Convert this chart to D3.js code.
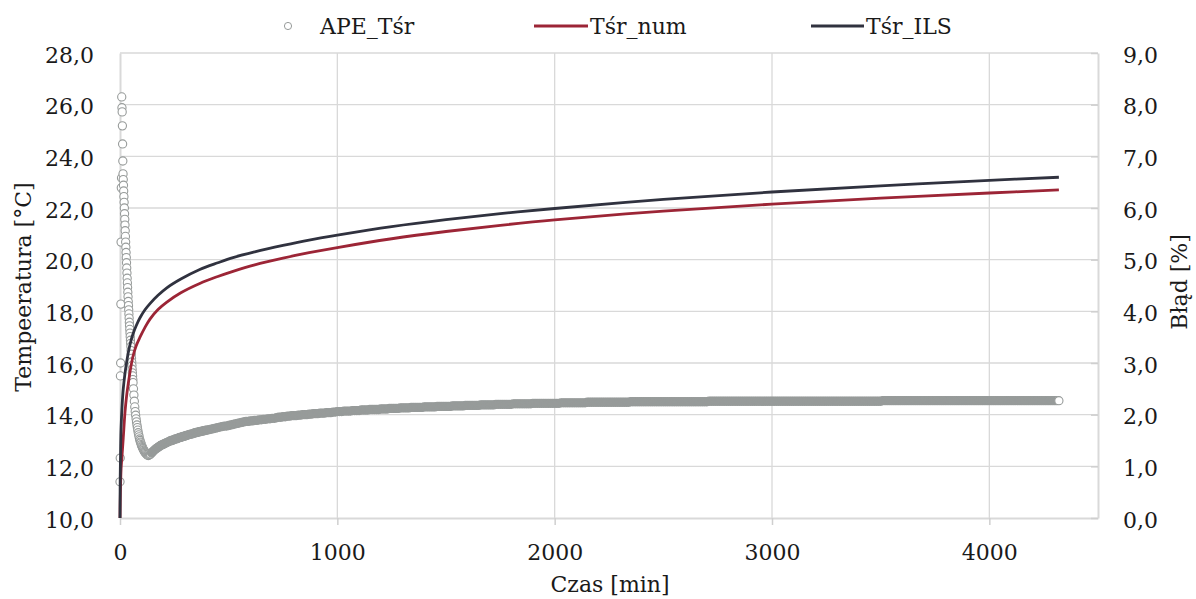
<!DOCTYPE html>
<html><head><meta charset="utf-8">
<script src="https://cdn.jsdelivr.net/npm/d3@7"></script>
<style>
body{margin:0;background:#fff}
text{font-family:"DejaVu Serif",serif;fill:#1a1a1a}
</style>
</head><body>
<svg id="c" width="1196" height="599"></svg>
<script>
// ---------- data ----------
const xTicks = [0, 1000, 2000, 3000, 4000];
const yLeftTicks = [10, 12, 14, 16, 18, 20, 22, 24, 26, 28];
const yRightTicks = [0, 1, 2, 3, 4, 5, 6, 7, 8, 9];
const seriesNames = ["APE_Tśr", "Tśr_num", "Tśr_ILS"];

// time [min] of line samples
const lineTime = [0, 1, 3, 5, 10, 15, 23, 30, 38, 50, 61, 75, 92, 115, 138, 175, 214, 280, 367, 450, 520, 620, 750, 870, 1000, 1250, 1500, 1750, 2000, 2500, 3000, 3500, 4000, 4320];
const tsrILS = [10.0, 11.6, 12.8, 13.5, 14.4, 15.0, 15.6, 16.0, 16.4, 16.85, 17.15, 17.45, 17.75, 18.06, 18.3, 18.62, 18.9, 19.25, 19.62, 19.88, 20.08, 20.3, 20.55, 20.76, 20.95, 21.28, 21.55, 21.78, 21.98, 22.33, 22.62, 22.86, 23.07, 23.19];
const tsrNum = [10.0, 10.6, 11.4, 11.9, 12.5, 13.1, 14.1, 14.7, 15.2, 15.85, 16.3, 16.68, 17.0, 17.38, 17.7, 18.07, 18.35, 18.72, 19.08, 19.35, 19.55, 19.8, 20.06, 20.27, 20.47, 20.81, 21.09, 21.33, 21.54, 21.88, 22.15, 22.38, 22.58, 22.7];

// APE_Tśr [%] — segments of samples (start minute, step in minutes, values)
const apeEarlyStart = 0, apeEarlyStep = 1;
const apeEarly = [0.70,1.16,2.75,3.00,4.14,5.34,6.39,6.58,8.15,7.94,7.86,7.59,7.24,6.91,6.66,
 6.55,6.44,6.33,6.22,6.11,6.00,5.89,5.78,5.67,5.56,5.45,5.34,5.24,5.14,5.04,4.94,4.84,4.74,4.64,4.55,4.46,
 4.37,4.28,4.19,4.11,4.03,3.95,3.87,3.79,3.72,3.65,3.58,3.51,3.44,3.38,3.32,3.24,3.17,3.09,3.02,2.95,2.88,2.81,2.75,2.68,2.62];
const apeMidStart = 62, apeMidStep = 2;
const apeMid = [2.50,2.38,2.26,2.15,2.06,1.99,1.92,1.86,1.80,1.75,1.70,1.65,1.61,1.57,1.53,1.50,1.47,1.45,1.42,1.40,
 1.38,1.36,1.34,1.32,1.31,1.29,1.28,1.27,1.26,1.25,1.24,1.23,1.22,1.22,1.21,1.22,1.22,1.23,1.23,1.24];
const apeLateStart = 145, apeLateStep = 5;
const apeLate = [1.26,1.28,1.30,1.32,1.34,1.35,1.37,1.38,1.40,1.41,1.42,1.43,1.44,1.45,1.46,1.47,1.48,1.49,1.50,1.50,
 1.51,1.52,1.53,1.53,1.54,1.55,1.56,1.56,1.57,1.58,1.58,1.59,1.60,1.60,1.61,1.62,1.62,1.63,1.63,1.64,
 1.65,1.65,1.66,1.66,1.67,1.67,1.68,1.68,1.69,1.69,1.70,1.70];
const apeTailStart = 410, apeTailStep = 10;
const apeTail = [
 1.71,1.72,1.73,1.74,1.75,1.76,1.77,1.78,1.78,1.79,1.80,1.81,1.82,1.83,1.84,1.85,1.86,
 1.87,1.87,1.88,1.88,1.89,1.89,1.90,1.90,1.91,1.91,1.92,1.92,1.93,1.93,1.94,
 1.95,1.95,1.96,1.96,1.97,1.97,1.98,1.98,1.98,1.99,1.99,2.00,2.00,2.00,2.01,2.01,2.02,2.02,2.02,2.03,2.03,2.03,2.04,2.04,2.04,2.05,2.05,2.06,
 2.06,2.06,2.07,2.07,2.07, 2.07,2.08,2.08,2.08,2.08, 2.09,2.09,2.09,2.09,2.10, 2.10,2.10,2.10,2.10,2.11, 2.11,2.11,2.11,2.12,2.12,
 2.12,2.12,2.12,2.13,2.13, 2.13,2.13,2.13,2.14,2.14, 2.14,2.14,2.14,2.14,2.15, 2.15,2.15,2.15,2.15,2.15, 2.16,2.16,2.16,2.16,2.16,
 2.16,2.16,2.17,2.17,2.17, 2.17,2.17,2.17,2.18,2.18, 2.18,2.18,2.18,2.18,2.18, 2.19,2.19,2.19,2.19,2.19, 2.19,2.19,2.20,2.20,2.20,
 2.20,2.20,2.20,2.20,2.20, 2.21,2.21,2.21,2.21,2.21, 2.21,2.21,2.21,2.21,2.22, 2.22,2.22,2.22,2.22,2.22, 2.22,2.22,2.22,2.22,2.22,
 2.22,2.22,2.23,2.23,2.23,2.23,2.23,2.23,2.23,2.23, 2.23,2.23,2.23,2.23,2.24,2.24,2.24,2.24,2.24,2.24,
 2.24,2.24,2.24,2.24,2.24,2.24,2.24,2.24,2.24,2.24, 2.24,2.24,2.24,2.24,2.25,2.25,2.25,2.25,2.25,2.25,
 2.25,2.25,2.25,2.25,2.25,2.25,2.25,2.25,2.25,2.25,
 2.25,2.25,2.25,2.25,2.25,2.25,2.25,2.25,2.25,2.25, 2.25,2.25,2.25,2.25,2.25,2.25,2.25,2.25,2.25,2.25,
 2.26,2.26,2.26,2.26,2.26,2.26,2.26,2.26,2.26,2.26, 2.26,2.26,2.26,2.26,2.26,2.26,2.26,2.26,2.26,2.26, 2.26,2.26,2.26,2.26,2.26,2.26,2.26,2.26,2.26,2.26,
 2.26,2.26,2.26,2.26,2.26,2.26,2.26,2.26,2.26,2.26, 2.26,2.26,2.26,2.26,2.26,2.26,2.26,2.26,2.26,2.26, 2.26,2.26,2.26,2.26,2.26,2.26,2.26,2.26,2.26,2.26,
 2.26,2.26,2.26,2.26,2.26,2.26,2.26,2.26,2.26,2.26, 2.26,2.26,2.26,2.26,2.26,2.26,2.26,2.26,2.26,2.26,
 2.27,2.27,2.27,2.27,2.27,2.27,2.27,2.27,2.27,2.27, 2.27,2.27,2.27,2.27,2.27,2.27,2.27,2.27,2.27,2.27,
 2.27,2.27,2.27,2.27,2.27,2.27,2.27,2.27,2.27,2.27, 2.27,2.27,2.27,2.27,2.27,2.27,2.27,2.27,2.27,2.27,
 2.27,2.27,2.27,2.27,2.27,2.27,2.27,2.27,2.27,2.27, 2.27,2.27,2.27,2.27,2.27,2.27,2.27,2.27,2.27,2.27,
 2.27,2.27,2.27,2.27,2.27,2.27,2.27,2.27,2.27,2.27, 2.27,2.27,2.27,2.27,2.27,2.27,2.27,2.27,2.27,2.27,
 2.27,2.27];

// ---------- chart ----------
const colNum = "#9c2536", colILS = "#30323f", colApe = "#979b9a", grid = "#d9d9d9";
const svg = d3.select("#c");
const x = d3.scaleLinear().domain([0, 4500]).range([120, 1098]);
const yL = d3.scaleLinear().domain([10, 28]).range([518, 53]);
const yR = d3.scaleLinear().domain([0, 9]).range([518, 53]);
const fmt = d => d.toFixed(1).replace(".", ",");

// gridlines
svg.append("g").selectAll("line").data(yLeftTicks.filter(d => d > 10)).join("line")
  .attr("x1", x(0)).attr("x2", x(4500)).attr("y1", d => yL(d)).attr("y2", d => yL(d))
  .attr("stroke", grid).attr("stroke-width", 1.3);
svg.append("g").selectAll("line").data(xTicks.filter(d => d > 0)).join("line")
  .attr("x1", d => x(d)).attr("x2", d => x(d)).attr("y1", yL(28)).attr("y2", yL(10))
  .attr("stroke", grid).attr("stroke-width", 1.3);

// axes
const ax = svg.append("g").attr("transform", `translate(0,${yL(10)})`)
  .call(d3.axisBottom(x).tickValues(xTicks).tickSizeInner(7).tickSizeOuter(0).tickPadding(19).tickFormat(d3.format("d")));
const axL = svg.append("g").attr("transform", `translate(${x(0)},0)`)
  .call(d3.axisLeft(yL).tickValues(yLeftTicks).tickSize(0).tickPadding(26).tickFormat(fmt));
const axR = svg.append("g").attr("transform", `translate(${x(4500)},0)`)
  .call(d3.axisRight(yR).tickValues(yRightTicks).tickSizeInner(-7).tickSizeOuter(0).tickPadding(25).tickFormat(fmt));
[ax, axL, axR].forEach(g => {
  g.selectAll(".domain").attr("stroke", grid).attr("stroke-width", 2);
  g.selectAll(".tick line").attr("stroke", "#cfcfcf").attr("stroke-width", 1.5);
  g.selectAll("text").attr("font-size", 22).attr("font-family", "DejaVu Serif").attr("fill", "#1a1a1a");
});
axL.selectAll("text").attr("dy", "0.42em");
axR.selectAll("text").attr("dy", "0.42em");

// APE scatter
const apePts = [];
const addSeg = (start, step, vals, dense) => vals.forEach((v, i) => apePts.push({t: start + i * step, v, dense}));
addSeg(apeEarlyStart, apeEarlyStep, apeEarly, false);
addSeg(apeMidStart, apeMidStep, apeMid, false);
addSeg(apeLateStart, apeLateStep, apeLate, true);
addSeg(apeTailStart, apeTailStep, apeTail, true);
svg.append("g").selectAll("circle").data(apePts).join("circle")
  .attr("cx", d => x(d.t)).attr("cy", d => yR(d.v)).attr("r", 4.1)
  .attr("fill", (d, i) => d.dense && i < apePts.length - 1 ? colApe : "#fff")
  .attr("stroke", colApe).attr("stroke-width", 1.1);

// lines
const mk = vals => d3.line().x((d, i) => x(lineTime[i])).y(d => yL(d)).curve(d3.curveCatmullRom.alpha(0.5))(vals);
svg.append("path").attr("d", mk(tsrNum)).attr("fill", "none").attr("stroke", colNum).attr("stroke-width", 2.8);
svg.append("path").attr("d", mk(tsrILS)).attr("fill", "none").attr("stroke", colILS).attr("stroke-width", 2.8);

// axis titles
svg.append("text").attr("transform", "translate(31,287) rotate(-90)").attr("text-anchor", "middle")
  .attr("font-size", 22).text("Tempeeratura [°C]");
svg.append("text").attr("transform", "translate(1187,282) rotate(-90)").attr("text-anchor", "middle")
  .attr("font-size", 22).text("Błąd [%]");
svg.append("text").attr("x", 610).attr("y", 592).attr("text-anchor", "middle")
  .attr("font-size", 22).text("Czas [min]");

// legend
const lg = svg.append("g");
lg.append("circle").attr("cx", 288).attr("cy", 26).attr("r", 3.6).attr("fill", "#fff").attr("stroke", colApe);
lg.append("text").attr("x", 320).attr("y", 34).attr("font-size", 22).text(seriesNames[0]);
lg.append("line").attr("x1", 534).attr("x2", 588).attr("y1", 26).attr("y2", 26).attr("stroke", colNum).attr("stroke-width", 2.8);
lg.append("text").attr("x", 590).attr("y", 34).attr("font-size", 22).text(seriesNames[1]);
lg.append("line").attr("x1", 811).attr("x2", 864).attr("y1", 26).attr("y2", 26).attr("stroke", colILS).attr("stroke-width", 2.8);
lg.append("text").attr("x", 866).attr("y", 34).attr("font-size", 22).text(seriesNames[2]);
</script>
</body></html>
